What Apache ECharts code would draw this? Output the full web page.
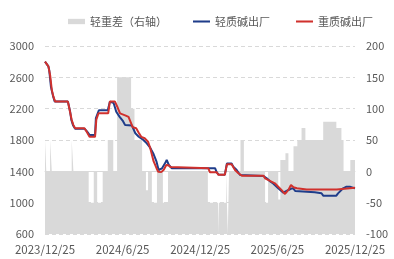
<!DOCTYPE html>
<html>
<head>
<meta charset="utf-8">
<script src="https://cdn.jsdelivr.net/npm/echarts@6/dist/echarts.min.js"></script>
<style>html,body{margin:0;padding:0;background:#fff;}#chart{width:394px;height:259px;}</style>
</head>
<body>
<div id="chart"></div>
<script>
// x-axis tick labels
const xTickLabels = ['2023/12/25', '2024/6/25', '2024/12/25', '2025/6/25', '2025/12/25'];
const xMin = '2023-12-25';
const xMax = '2025-12-25';

// 轻质碱出厂 (light soda ash) — change points
const lightDates = ['2023-12-25','2024-01-02','2024-01-04','2024-01-08','2024-01-13','2024-01-17','2024-02-17','2024-02-22','2024-02-25','2024-02-29','2024-03-05','2024-03-27','2024-04-02','2024-04-08','2024-04-21','2024-04-23','2024-04-30','2024-05-21','2024-05-26','2024-06-04','2024-06-10','2024-06-18','2024-06-26','2024-07-01','2024-07-17','2024-07-25','2024-08-02','2024-08-13','2024-08-21','2024-08-28','2024-09-06','2024-09-13','2024-09-18','2024-09-26','2024-10-03','2024-10-07','2024-10-12','2024-10-19','2025-01-29','2025-02-02','2025-02-06','2025-02-21','2025-02-26','2025-03-09','2025-03-13','2025-03-21','2025-03-29','2025-04-02','2025-05-23','2025-05-31','2025-06-08','2025-06-15','2025-06-27','2025-07-09','2025-07-12','2025-07-21','2025-07-28','2025-08-02','2025-08-06','2025-08-10','2025-09-21','2025-10-07','2025-10-11','2025-11-11','2025-11-15','2025-11-19','2025-11-27','2025-12-05','2025-12-13','2025-12-16','2025-12-25'];
const lightValues = [2800,2740,2690,2480,2360,2290,2290,2170,2060,1990,1945,1945,1910,1865,1865,2080,2180,2180,2290,2270,2160,2095,2040,1990,1985,1886,1842,1800,1757,1710,1620,1523,1417,1439,1502,1545,1481,1440,1440,1388,1360,1355,1500,1500,1460,1417,1353,1340,1340,1311,1270,1245,1183,1127,1119,1162,1180,1180,1149,1135,1132,1120,1089,1089,1119,1140,1183,1204,1204,1183,1183];

// 重质碱出厂 (heavy soda ash) — change points
const heavyDates = ['2023-12-25','2024-01-02','2024-01-06','2024-01-10','2024-01-14','2024-01-18','2024-02-17','2024-02-22','2024-02-26','2024-03-01','2024-03-05','2024-03-27','2024-04-02','2024-04-08','2024-04-21','2024-04-24','2024-04-29','2024-05-22','2024-05-26','2024-06-07','2024-06-14','2024-06-19','2024-07-01','2024-07-09','2024-07-12','2024-07-19','2024-07-27','2024-08-02','2024-08-08','2024-08-16','2024-08-24','2024-08-29','2024-09-06','2024-09-13','2024-09-17','2024-09-24','2024-09-30','2024-10-06','2024-10-11','2024-10-16','2024-10-19','2025-01-13','2025-01-17','2025-02-02','2025-02-06','2025-02-21','2025-02-26','2025-03-09','2025-03-17','2025-03-25','2025-04-02','2025-05-23','2025-05-27','2025-06-03','2025-06-11','2025-06-19','2025-06-27','2025-07-05','2025-07-13','2025-07-21','2025-07-27','2025-08-02','2025-08-10','2025-09-02','2025-11-12','2025-11-16','2025-12-25'];
const heavyValues = [2800,2740,2630,2440,2350,2290,2290,2160,2055,1990,1950,1950,1900,1840,1840,2060,2140,2140,2290,2290,2205,2140,2115,2095,2055,1962,1950,1893,1840,1822,1778,1700,1530,1440,1395,1390,1420,1480,1478,1455,1440,1440,1388,1388,1355,1355,1490,1490,1417,1375,1345,1345,1311,1290,1268,1247,1204,1160,1111,1162,1226,1196,1183,1168,1168,1190,1190];

// 轻重差（右轴） — step values, each held from its date until the next
const diffDates = ['2023-12-25','2023-12-28','2024-01-06','2024-01-10','2024-02-26','2024-03-01','2024-04-06','2024-04-18','2024-04-26','2024-05-09','2024-05-21','2024-06-03','2024-06-12','2024-07-15','2024-07-23','2024-08-10','2024-08-19','2024-08-24','2024-09-02','2024-09-14','2024-09-28','2024-10-10','2025-01-12','2025-02-05','2025-02-07','2025-02-24','2025-02-28','2025-03-03','2025-03-30','2025-04-07','2025-05-27','2025-06-03','2025-06-27','2025-07-02','2025-07-14','2025-07-21','2025-08-02','2025-08-11','2025-08-21','2025-08-30','2025-10-11','2025-11-11','2025-11-23','2025-11-28','2025-12-14','2025-12-25'];
const diffValues = [50,0,50,0,50,0,-50,0,-50,0,50,0,150,100,50,0,-30,0,-50,0,-50,0,-50,-100,-50,0,-100,0,50,0,-50,0,-45,18,29,0,40,50,69,50,79,69,50,0,18,18];

const toTime = s => { const p = s.split(/[-\/]/).map(Number); return new Date(p[0], p[1] - 1, p[2]).getTime(); };
const zip = (d, v) => d.map((x, i) => [toTime(x), v[i]]);
const tickTimes = xTickLabels.map(toTime);

const labelColor = '#595959';
const font = 'Noto Sans CJK SC';
const chart = echarts.init(document.getElementById('chart'));
chart.setOption({
  animation: false,
  textStyle: { fontFamily: font },
  grid: { left: 45, right: 39, top: 46, bottom: 25, containLabel: false },
  legend: {
    top: 11, left: 63, itemGap: 26, itemWidth: 17, itemHeight: 8,
    textStyle: { color: labelColor, fontSize: 11, fontFamily: font },
    data: [
      { name: '轻重差（右轴）', icon: 'path://M0,0L16,0L16,5L0,5Z' },
      { name: '轻质碱出厂', icon: 'path://M0,0L20,0L20,2.4L0,2.4Z' },
      { name: '重质碱出厂', icon: 'path://M0,0L20,0L20,2.4L0,2.4Z' }
    ]
  },
  xAxis: {
    type: 'value', min: toTime(xMin), max: toTime(xMax),
    axisLine: { show: true, lineStyle: { color: '#d9d9d9' } },
    axisTick: { show: false },
    splitLine: { show: false },
    axisLabel: {
      customValues: tickTimes, color: labelColor, fontSize: 11.5, margin: 10, fontFamily: font,
      formatter: v => { const d = new Date(v); return d.getFullYear() + '/' + (d.getMonth() + 1) + '/' + d.getDate(); }
    }
  },
  yAxis: [
    {
      type: 'value', min: 600, max: 3000, interval: 400,
      axisLine: { show: false }, axisTick: { show: false },
      axisLabel: { color: labelColor, fontSize: 11, margin: 11, fontFamily: font, formatter: v => String(v) },
      splitLine: { show: true, lineStyle: { color: '#d9d9d9', type: [4, 3] } }
    },
    {
      type: 'value', min: -100, max: 200, interval: 50,
      axisLine: { show: false }, axisTick: { show: false },
      axisLabel: { color: labelColor, fontSize: 11, margin: 11, fontFamily: font, formatter: v => String(v) },
      splitLine: { show: false }
    }
  ],
  series: [
    {
      name: '轻重差（右轴）', type: 'line', yAxisIndex: 1, step: 'end', symbol: 'none',
      data: zip(diffDates, diffValues),
      color: '#d9d9d9',
      lineStyle: { width: 0 },
      areaStyle: { color: '#d9d9d9', opacity: 1, origin: 'start' },
      z: 1
    },
    {
      name: '轻质碱出厂', type: 'line', yAxisIndex: 0, symbol: 'none',
      data: zip(lightDates, lightValues),
      color: '#1f3d8a', lineStyle: { width: 2, color: '#1f3d8a' }, z: 3
    },
    {
      name: '重质碱出厂', type: 'line', yAxisIndex: 0, symbol: 'none',
      data: zip(heavyDates, heavyValues),
      color: '#d0312d', lineStyle: { width: 2, color: '#d0312d' }, z: 4
    }
  ]
});
</script>
</body>
</html>
